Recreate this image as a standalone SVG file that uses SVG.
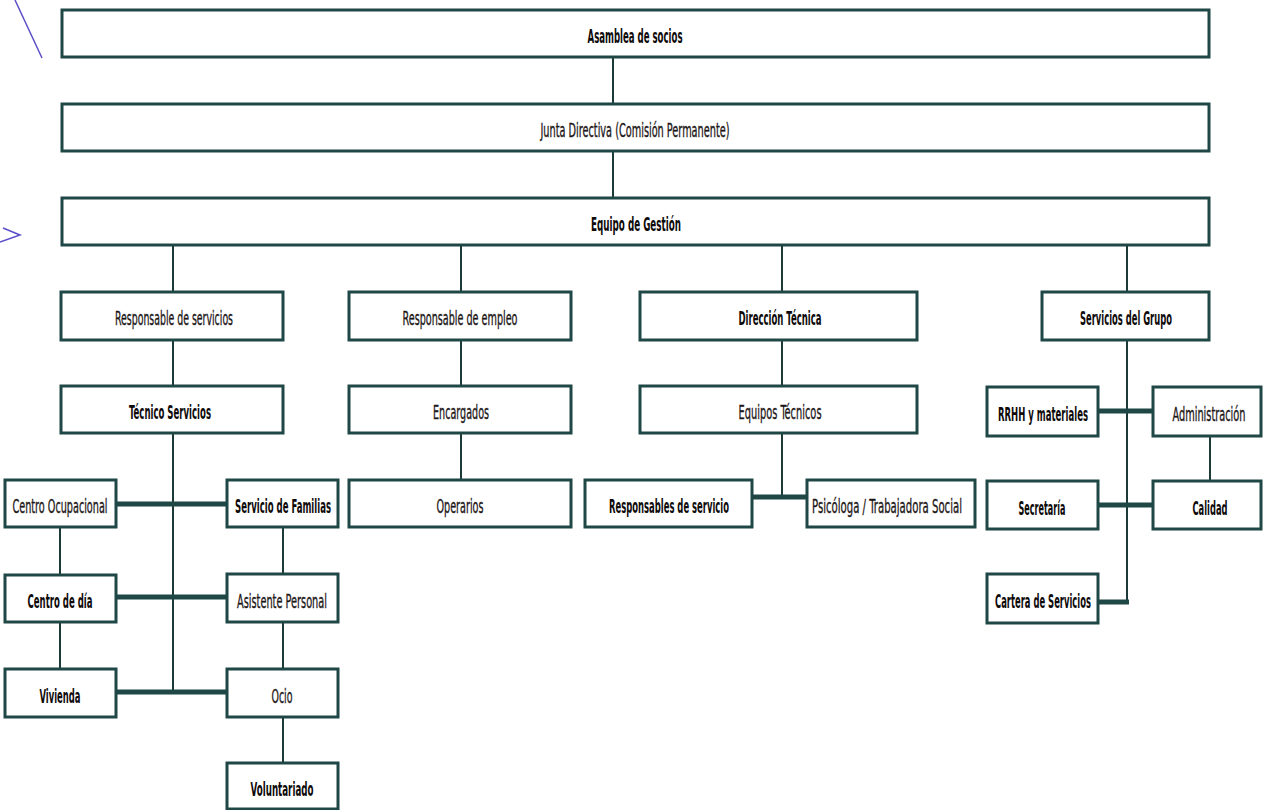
<svg xmlns="http://www.w3.org/2000/svg" width="1264" height="810" viewBox="0 0 1264 810">
<style>
.b{fill:#fff;stroke:#1e4746;stroke-width:3}
.t{font-family:"DejaVu Sans Condensed","Liberation Sans Narrow","Liberation Sans",sans-serif;font-size:20px;fill:#1c1616;stroke:#1c1616;stroke-width:0.35;text-anchor:middle;dominant-baseline:central}
.k{fill:#0e0a0a;stroke:none;font-weight:bold}
.c{stroke:#1c3a38;stroke-width:2;fill:none}
.w{stroke:#1e4746;stroke-width:5;fill:none}
.p{stroke:#5a4fc8;stroke-width:1.5;fill:none}
</style>
<rect width="1264" height="810" fill="#fff"/>
<path class="p" d="M15 0 L42 58"/>
<path class="p" d="M3 228 L20 235 L0 242"/>
<g id="connectors">
<path class="c" d="M613 57V104M613 151V198"/>
<path class="c" d="M173 245V292M461 245V292M782 245V292M1127 245V292"/>
<path class="c" d="M173 340V386M461 340V386M782 340V386"/>
<path class="c" d="M173 433V693M461 433V480M782 433V497"/>
<path class="c" d="M60 527V574M60 622V669M283 527V574M283 622V669M283 717V763"/>
<path class="c" d="M1127 340V603M1210 436V481"/>
<path class="w" d="M116 504H227M116 597H227M116 692H227"/>
<path class="w" d="M752 497H807"/>
<path class="w" d="M1098 411H1153M1098 505H1153M1098 602H1129"/>
</g>
<g id="asamblea"><rect class="b" x="62" y="10" width="1147" height="47"/><text class="t k" x="635" y="36" textLength="95" lengthAdjust="spacingAndGlyphs">Asamblea de socios</text></g>
<g id="junta"><rect class="b" x="62" y="104" width="1147" height="47"/><text class="t" x="635" y="130" textLength="189" lengthAdjust="spacingAndGlyphs">Junta Directiva (Comisión Permanente)</text></g>
<g id="equipo-gestion"><rect class="b" x="62" y="198" width="1147" height="47"/><text class="t k" x="636" y="224" textLength="90" lengthAdjust="spacingAndGlyphs">Equipo de Gestión</text></g>
<g id="resp-servicios"><rect class="b" x="61" y="292" width="222" height="48"/><text class="t" x="174" y="318" textLength="118" lengthAdjust="spacingAndGlyphs">Responsable de servicios</text></g>
<g id="resp-empleo"><rect class="b" x="349" y="292" width="222" height="48"/><text class="t" x="460" y="318" textLength="115" lengthAdjust="spacingAndGlyphs">Responsable de empleo</text></g>
<g id="direccion-tecnica"><rect class="b" x="640" y="292" width="277" height="48"/><text class="t k" x="780" y="318" textLength="83" lengthAdjust="spacingAndGlyphs">Dirección Técnica</text></g>
<g id="servicios-grupo"><rect class="b" x="1042" y="292" width="167" height="48"/><text class="t k" x="1126" y="318" textLength="92" lengthAdjust="spacingAndGlyphs">Servicios del Grupo</text></g>
<g id="tecnico-servicios"><rect class="b" x="61" y="386" width="222" height="47"/><text class="t k" x="170" y="412" textLength="82" lengthAdjust="spacingAndGlyphs">Técnico Servicios</text></g>
<g id="encargados"><rect class="b" x="349" y="386" width="222" height="47"/><text class="t" x="461" y="412" textLength="56" lengthAdjust="spacingAndGlyphs">Encargados</text></g>
<g id="equipos-tecnicos"><rect class="b" x="640" y="386" width="277" height="47"/><text class="t" x="780" y="412" textLength="83" lengthAdjust="spacingAndGlyphs">Equipos Técnicos</text></g>
<g id="rrhh"><rect class="b" x="987" y="387" width="111" height="49"/><text class="t k" x="1043" y="414" textLength="90" lengthAdjust="spacingAndGlyphs">RRHH y materiales</text></g>
<g id="administracion"><rect class="b" x="1153" y="387" width="108" height="49"/><text class="t" x="1209" y="414" textLength="73" lengthAdjust="spacingAndGlyphs">Administración</text></g>
<g id="centro-ocupacional"><rect class="b" x="5" y="480" width="111" height="47"/><text class="t" x="60" y="506" textLength="95" lengthAdjust="spacingAndGlyphs">Centro Ocupacional</text></g>
<g id="servicio-familias"><rect class="b" x="227" y="480" width="111" height="47"/><text class="t k" x="283" y="506" textLength="96" lengthAdjust="spacingAndGlyphs">Servicio de Familias</text></g>
<g id="operarios"><rect class="b" x="349" y="480" width="222" height="47"/><text class="t" x="460" y="506" textLength="47" lengthAdjust="spacingAndGlyphs">Operarios</text></g>
<g id="responsables-servicio"><rect class="b" x="585" y="480" width="167" height="47"/><text class="t k" x="669" y="506" textLength="120" lengthAdjust="spacingAndGlyphs">Responsables de servicio</text></g>
<g id="psicologa"><rect class="b" x="807" y="480" width="168" height="47"/><text class="t" x="887" y="506" textLength="150" lengthAdjust="spacingAndGlyphs">Psicóloga / Trabajadora Social</text></g>
<g id="secretaria"><rect class="b" x="987" y="481" width="111" height="48"/><text class="t k" x="1042" y="508" textLength="47" lengthAdjust="spacingAndGlyphs">Secretaría</text></g>
<g id="calidad"><rect class="b" x="1153" y="481" width="108" height="48"/><text class="t k" x="1210" y="508" textLength="35" lengthAdjust="spacingAndGlyphs">Calidad</text></g>
<g id="centro-dia"><rect class="b" x="5" y="575" width="111" height="47"/><text class="t k" x="60" y="601" textLength="65" lengthAdjust="spacingAndGlyphs">Centro de día</text></g>
<g id="asistente-personal"><rect class="b" x="227" y="574" width="111" height="48"/><text class="t" x="282" y="601" textLength="90" lengthAdjust="spacingAndGlyphs">Asistente Personal</text></g>
<g id="cartera-servicios"><rect class="b" x="987" y="574" width="111" height="49"/><text class="t k" x="1043" y="601" textLength="96" lengthAdjust="spacingAndGlyphs">Cartera de Servicios</text></g>
<g id="vivienda"><rect class="b" x="5" y="669" width="111" height="48"/><text class="t k" x="60" y="696" textLength="41" lengthAdjust="spacingAndGlyphs">Vivienda</text></g>
<g id="ocio"><rect class="b" x="227" y="669" width="111" height="48"/><text class="t" x="282" y="696" textLength="21" lengthAdjust="spacingAndGlyphs">Ocio</text></g>
<g id="voluntariado"><rect class="b" x="227" y="763" width="111" height="46"/><text class="t k" x="282" y="789" textLength="63" lengthAdjust="spacingAndGlyphs">Voluntariado</text></g>
</svg>
